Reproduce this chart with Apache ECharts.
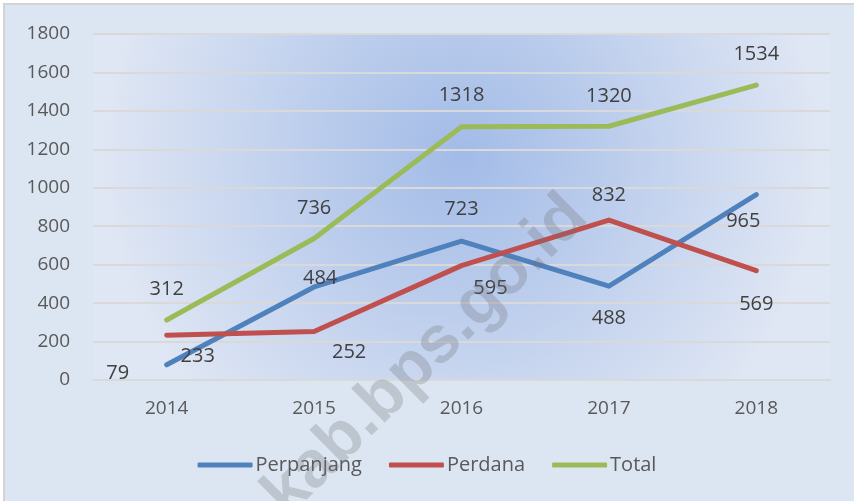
<!DOCTYPE html>
<html>
<head>
<meta charset="utf-8">
<script src="https://cdn.jsdelivr.net/npm/echarts@6/dist/echarts.min.js"></script>
<style>
  html, body { margin: 0; padding: 0; background: #ffffff; }
  #chart { width: 854px; height: 501px; }
</style>
</head>
<body>
<div id="chart"></div>
<script>
const years = ['2014', '2015', '2016', '2017', '2018'];
const perpanjang = [79, 484, 723, 488, 965];
const perdana = [233, 252, 595, 832, 569];
const total = [312, 736, 1318, 1320, 1534];

// label offsets (px) from each point, like the moved labels in the original
const offPerpanjang = [[-49, 8], [6, -9], [0, -32], [0, 32], [-13, 27]];
const offPerdana = [[31, 21], [35, 21], [29, 23], [0, -25], [0, 34]];
const offTotal = [[0, -31], [0, -30], [0, -31], [0, -30], [0, -31]];

const font = '"Open Sans", "Liberation Sans", sans-serif';

function withLabels(values, offsets) {
    return values.map((v, i) => ({ value: v, label: { offset: offsets[i] } }));
}

function lineSeries(name, color, values, offsets) {
    return {
        name: name,
        type: 'line',
        data: withLabels(values, offsets),
        symbol: 'circle',
        symbolSize: 1,
        itemStyle: { color: color },
        lineStyle: { width: 5, color: color, cap: 'round', join: 'round' },
        label: {
            show: true,
            position: 'inside',
            color: '#404040',
            fontSize: 20,
            fontFamily: font
        },
        emphasis: { disabled: true },
        z: 3
    };
}

var myChart = echarts.init(document.getElementById('chart'));
var option;

option = {
    animation: false,
    backgroundColor: '#ffffff',
    graphic: [
        {
            type: 'rect',
            shape: { x: 4, y: 4, width: 860, height: 500 },
            style: { fill: '#dce6f2', stroke: '#d4d4d4', lineWidth: 2 },
            z: -10,
            silent: true
        },
        {
            type: 'text',
            x: 426,
            y: 356,
            rotation: 0.78,
            style: {
                text: 'kab.bps.go.id',
                font: 'bold 66px "Liberation Sans", sans-serif',
                fill: 'rgba(110,110,120,0.28)',
                align: 'center',
                verticalAlign: 'middle'
            },
            z: 100,
            silent: true
        }
    ],
    grid: {
        left: 93,
        right: 24,
        top: 34,
        bottom: 121,
        show: true,
        borderWidth: 0,
        backgroundColor: {
            type: 'radial',
            x: 0.5,
            y: 0.35,
            r: 1.05,
            colorStops: [
                { offset: 0, color: '#a2bbe7' },
                { offset: 0.55, color: '#c4d3ee' },
                { offset: 1, color: '#e0e7f4' }
            ]
        }
    },
    legend: {
        data: ['Perpanjang', 'Perdana', 'Total'],
        bottom: 21,
        left: 'center',
        itemWidth: 55,
        itemHeight: 5,
        itemGap: 27,
        icon: 'roundRect',
        textStyle: { color: '#595959', fontSize: 20, fontFamily: font, padding: [0, 0, 0, -2] }
    },
    xAxis: {
        type: 'category',
        data: years,
        axisLine: { lineStyle: { color: '#d9d9d9', width: 2 } },
        axisTick: { show: false },
        axisLabel: { color: '#595959', fontSize: 19, fontFamily: font, margin: 19 }
    },
    yAxis: {
        type: 'value',
        min: 0,
        max: 1800,
        interval: 200,
        axisLine: { show: false },
        axisTick: { show: false },
        axisLabel: {
            color: '#595959',
            fontSize: 19,
            fontFamily: font,
            margin: 23,
            formatter: (value) => String(value)
        },
        splitLine: { lineStyle: { color: '#d9d9d9', width: 2 } }
    },
    series: [
        lineSeries('Perpanjang', '#4f81bd', perpanjang, offPerpanjang),
        lineSeries('Perdana', '#c0504d', perdana, offPerdana),
        lineSeries('Total', '#9bbb59', total, offTotal)
    ]
};

option && myChart.setOption(option);
</script>
</body>
</html>
